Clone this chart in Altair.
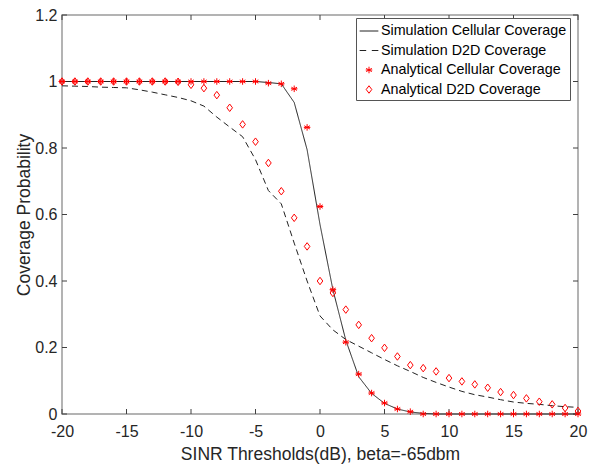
import altair as alt
import pandas as pd

x_vals = list(range(-20, 21))

sim_cell = [1.0]*16 + [0.997, 0.993, 0.937, 0.795, 0.57, 0.374, 0.222, 0.112, 0.062,
                       0.032, 0.015, 0.006, 0.002, 0.0, 0.0, 0.0, 0.0, 0.0, 0.0,
                       0.0, 0.0, 0.0, 0.0, 0.0, 0.0]
sim_d2d = [0.987, 0.986, 0.985, 0.983, 0.982, 0.981, 0.975, 0.968, 0.96, 0.952,
           0.942, 0.926, 0.893, 0.863, 0.834, 0.765, 0.672, 0.632, 0.514, 0.40,
           0.295, 0.253, 0.224, 0.204, 0.184, 0.164, 0.145, 0.128, 0.11, 0.095,
           0.081, 0.068, 0.058, 0.051, 0.043, 0.036, 0.032, 0.029, 0.025, 0.022, 0.02]
ana_cell = [1.0]*16 + [0.995, 0.993, 0.978, 0.862, 0.624, 0.374, 0.216, 0.120, 0.063,
                       0.033, 0.015, 0.007, 0.0, 0.0, 0.0, 0.0, 0.0, 0.0, 0.0,
                       0.0, 0.0, 0.0, 0.0, 0.0, 0.0]
ana_d2d = [1.0, 1.0, 1.0, 1.0, 1.0, 1.0, 1.0, 1.0, 1.0, 0.999,
           0.99, 0.98, 0.959, 0.921, 0.871, 0.819, 0.755, 0.67, 0.59, 0.504,
           0.40, 0.364, 0.314, 0.268, 0.228, 0.199, 0.173, 0.147, 0.138, 0.128,
           0.108, 0.098, 0.089, 0.079, 0.066, 0.057, 0.047, 0.037, 0.029, 0.018, 0.009]

series_names = ["Simulation Cellular Coverage", "Simulation D2D Coverage",
                "Analytical Cellular Coverage", "Analytical D2D Coverage"]
x_ticks = [-20, -15, -10, -5, 0, 5, 10, 15, 20]
y_ticks = [0, 0.2, 0.4, 0.6, 0.8, 1, 1.2]

W, H = 516, 399
FONT = "Liberation Sans"
TXT = "#262626"

rows = []
for name, vals in zip(series_names, [sim_cell, sim_d2d, ana_cell, ana_d2d]):
    for xv, yv in zip(x_vals, vals):
        rows.append({"x": xv, "y": yv, "series": name})
df = pd.DataFrame(rows)
lines_df = df[df.series.str.startswith("Simulation")]
pts_df = df[df.series.str.startswith("Analytical")]

xscale = alt.Scale(domain=[-20, 20], nice=False, zero=False)
yscale = alt.Scale(domain=[0, 1.2], nice=False)

xaxis = alt.Axis(values=x_ticks, title="SINR Thresholds(dB), beta=-65dbm",
                 labelExpr="'' + datum.value", ticks=False, tickSize=0, domain=False,
                 grid=False, labelPadding=9, titlePadding=6, labelFlush=False,
                 labelOverlap=False)
yaxis = alt.Axis(values=y_ticks, title="Coverage Probability",
                 labelExpr="'' + datum.value", ticks=False, tickSize=0, domain=False,
                 grid=False, labelPadding=5, titlePadding=1, labelFlush=False,
                 labelOverlap=False)

star = "M0,-0.35V0.35M-0.3,-0.175L0.3,0.175M-0.3,0.175L0.3,-0.175M-0.35,0H0.35"
diamond = "M0,-0.4L0.3,0L0,0.4L-0.3,0Z"
solid = "M-1,0H1"
dashed = "M-1,0H-0.3M0.3,0H1"

lines = alt.Chart(lines_df).mark_line(strokeWidth=1, color="#222222").encode(
    x=alt.X("x:Q", scale=xscale, axis=xaxis),
    y=alt.Y("y:Q", scale=yscale, axis=yaxis),
    strokeDash=alt.StrokeDash("series:N",
                              scale=alt.Scale(domain=series_names[:2], range=[[1, 0], [6, 4]]),
                              legend=None),
)

leg = alt.Legend(title=None, orient="none", legendX=294, legendY=3)
points = alt.Chart(pts_df).mark_point(filled=False, strokeWidth=1, size=350, opacity=1).encode(
    x=alt.X("x:Q", scale=xscale),
    y=alt.Y("y:Q", scale=yscale),
    shape=alt.Shape("series:N", scale=alt.Scale(domain=series_names,
                                                range=[solid, dashed, star, diamond]),
                    legend=leg),
    color=alt.Color("series:N", scale=alt.Scale(domain=series_names,
                                                range=["#222222", "#222222", "#ff0000", "#ff0000"]),
                    legend=leg),
)

xt = pd.DataFrame({"t": x_ticks})
yt = pd.DataFrame({"t": y_ticks})
tick_color = "#404040"
bt = alt.Chart(xt).mark_rule(color=tick_color, strokeWidth=1).encode(
    x=alt.X("t:Q", scale=xscale), y=alt.value(H), y2=alt.value(H - 5))
tt = alt.Chart(xt).mark_rule(color=tick_color, strokeWidth=1).encode(
    x=alt.X("t:Q", scale=xscale), y=alt.value(0), y2=alt.value(5))
lt = alt.Chart(yt).mark_rule(color=tick_color, strokeWidth=1).encode(
    y=alt.Y("t:Q", scale=yscale), x=alt.value(0), x2=alt.value(5))
rt = alt.Chart(yt).mark_rule(color=tick_color, strokeWidth=1).encode(
    y=alt.Y("t:Q", scale=yscale), x=alt.value(W), x2=alt.value(W - 5))

chart = alt.layer(bt, tt, lt, rt, lines, points).properties(
    width=W, height=H, autosize="none",
    padding={"left": 54, "top": 7, "right": 18, "bottom": 50},
).configure_view(
    stroke="#9a9a9a", strokeWidth=1.5
).configure_axis(
    labelFont=FONT, titleFont=FONT, labelFontSize=16, titleFontSize=17.5,
    labelColor=TXT, titleColor=TXT, titleFontWeight="normal",
).configure_legend(
    labelFont=FONT, labelFontSize=14.3, labelColor="#000000", labelOffset=2,
    symbolSize=350, symbolStrokeWidth=1, padding=3, rowPadding=1.5,
    strokeColor="#555555", fillColor="white", labelLimit=0,
    symbolType="circle",
)

chart.save("out.html", embed_options={"renderer": "svg", "actions": False})
